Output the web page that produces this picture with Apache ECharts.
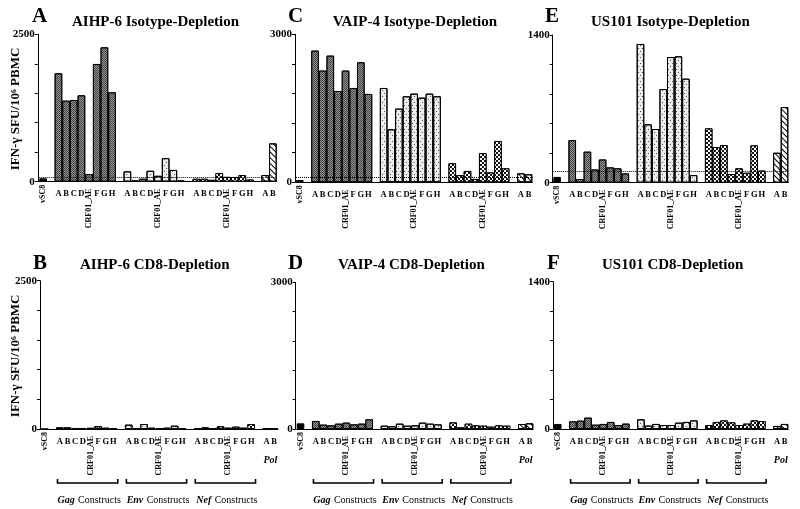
<!DOCTYPE html>
<html><head><meta charset="utf-8">
<script src="https://cdn.jsdelivr.net/npm/echarts@6/dist/echarts.min.js"></script>
<style>html,body{margin:0;padding:0;background:#fff}#c{width:800px;height:509px}</style>
</head><body><div id="c"></div>
<script>
// ---------------- data ----------------
const categories = ['vSC8','','A','B','C','D','CRF01_AE','F','G','H','','A','B','C','D','CRF01_AE','F','G','H','','A','B','C','D','CRF01_AE','F','G','H','','A','B'];
const panelLetters = ['A','B','C','D','E','F'];
const panelTitles = ['AIHP-6 Isotype-Depletion','AIHP-6 CD8-Depletion','VAIP-4 Isotype-Depletion','VAIP-4 CD8-Depletion','US101 Isotype-Depletion','US101 CD8-Depletion'];
const yMax = [2500, 2500, 3000, 3000, 1400, 1400];
const thresholds = [70, null, 100, null, 110, null];
const vsc8Values = [58, 0, 47, 116, 55, 48];
// Panel A: AIHP-6 Isotype
const gagA = [1838,1374,1386,1465,130,1997,2279,1516];
const envA = [175,20,50,185,100,400,200,20];
const nefA = [50,50,32,148,82,80,113,37];
const polA = [113,650];
// Panel B: AIHP-6 CD8
const gagB = [28,28,17,17,20,50,22,11];
const envB = [73,11,84,22,15,22,56,11];
const nefB = [11,28,12,45,22,39,22,84];
const polB = [4,4];
// Panel C: VAIP-4 Isotype
const gagC = [2669,2264,2568,1851,2264,1912,2432,1791];
const envC = [1912,1074,1493,1743,1797,1716,1797,1743];
const nefC = [385,145,230,68,590,200,838,284];
const polC = [182,162];
// Panel D: VAIP-4 CD8
const gagD = [164,89,75,109,130,95,109,198];
const envD = [68,55,109,68,75,130,109,95];
const nefD = [136,34,109,75,68,48,75,68];
const polD = [102,116];
// Panel E: US101 Isotype
const gagE = [404,35,294,125,220,145,136,88];
const envE = [1315,553,509,888,1191,1198,986,72];
const nefE = [515,338,357,82,136,94,354,115];
const polE = [284,717];
// Panel F: US101 CD8
const gagF = [73,79,108,41,48,67,38,51];
const envF = [92,32,48,38,38,60,67,82];
const nefF = [38,67,82,63,38,51,82,76];
const polF = [29,48];
const groupNames = ['Gag','Env','Nef'];

const gagData = [gagA,gagB,gagC,gagD,gagE,gagF];
const envData = [envA,envB,envC,envD,envE,envF];
const nefData = [nefA,nefB,nefC,nefD,nefE,nefF];
const polData = [polA,polB,polC,polD,polE,polF];

// ---------------- layout ----------------
const layout = [
 {left:39.3, top:34.3, width:237.4, height:147.4, yOff:1.5, lx:32, ly:17, tx:72, ty:21.7},
 {left:40.7, top:280.7, width:237.3, height:148.3, yOff:0.7, lx:33, ly:263.5, tx:80, ty:265},
 {left:296, top:34.3, width:236.3, height:148, yOff:1, lx:288, ly:17, tx:332.7, ty:21.7},
 {left:296.7, top:282.3, width:236.6, height:146.7, yOff:1, lx:288, ly:263.5, tx:338, ty:265},
 {left:553.3, top:35, width:235, height:147.7, yOff:0.6, lx:545, ly:17, tx:591, ty:21.7},
 {left:554, top:281.7, width:234.3, height:147.3, yOff:1, lx:547, ly:263.5, tx:602, ty:265}
];
const FONT = '"Liberation Serif","Times New Roman",serif';
const N = categories.length;
const START = {vsc:0, gag:2, env:11, nef:20, pol:29};

function place(vals, start){ const a = new Array(N).fill('-'); vals.forEach((v,i)=>{a[start+i]=v;}); return a; }

const styles = {
  vsc: {color:'#000'},
  gag: {color:'#474747', decal:{symbol:'rect', symbolSize:1, color:'rgba(255,255,255,0.4)', dashArrayX:[[1,1],[0,1,1,0]], dashArrayY:[1,0]}},
  env: {color:'#ececec', decal:{symbol:'rect', symbolSize:1, color:'#555', dashArrayX:[[1,3],[0,2,1,1]], dashArrayY:[1,1.5]}},
  nef: {color:'#151515', decal:{symbol:'rect', symbolSize:1, color:'#ffffff', dashArrayX:[[1.5,1.5],[0,1.5,1.5,0]], dashArrayY:[1.5,0]}},
  pol: {color:'#ffffff', decal:{symbol:'rect', symbolSize:1, color:'#000', dashArrayX:[1,0], dashArrayY:[1,2.2], rotation:Math.PI/4}}
};

const grids=[], xAxes=[], yAxes=[], series=[];
const letterAxisIdx = [];
layout.forEach((p, gi) => {
  grids.push({left:p.left, top:p.top, width:p.width, height:p.height});
  const base = xAxes.length;
  letterAxisIdx.push(base);
  const lab = {interval:0, fontFamily:FONT, fontWeight:'bold', color:'#000'};
  xAxes.push({type:'category', gridIndex:gi, position:'bottom', data:categories,
    axisLine:{show:true, onZero:false, lineStyle:{color:'#000', width:1}}, axisTick:{show:false}, splitLine:{show:false},
    axisLabel:Object.assign({}, lab, {margin:8, fontSize:8.5, formatter:v => v.length===1 ? v : ''})});
  xAxes.push({type:'category', gridIndex:gi, position:'bottom', data:categories,
    axisLine:{show:false, onZero:false}, axisTick:{show:false}, splitLine:{show:false},
    axisLabel:Object.assign({}, lab, {margin:7, rotate:90, fontSize:8, formatter:v => v==='CRF01_AE' ? v : ''})});
  xAxes.push({type:'category', gridIndex:gi, position:'bottom', data:categories,
    axisLine:{show:false, onZero:false}, axisTick:{show:false}, splitLine:{show:false},
    axisLabel:Object.assign({}, lab, {margin:3, rotate:90, fontSize:8, formatter:v => v==='vSC8' ? v : ''})});
  const mx = yMax[gi];
  yAxes.push({type:'value', gridIndex:gi, min:0, max:mx, interval:mx/5, offset:p.yOff,
    axisLine:{show:true, lineStyle:{color:'#000', width:1}},
    axisTick:{show:true, length:3, lineStyle:{color:'#000'}},
    splitLine:{show:false},
    axisLabel:{margin:3, fontFamily:FONT, fontWeight:'bold', fontSize:11, color:'#000',
      formatter:v => (v===0 || v===mx) ? String(v) : ''}});
  const groups = [
    ['vsc', [vsc8Values[gi]]], ['gag', gagData[gi]], ['env', envData[gi]], ['nef', nefData[gi]], ['pol', polData[gi]]
  ];
  groups.forEach(([k, vals]) => {
    const s = {type:'bar', xAxisIndex:base, yAxisIndex:gi, data:place(vals, START[k]),
      barGap:'-100%', barCategoryGap:0, silent:true,
      itemStyle:Object.assign({borderColor:'#000', borderWidth:1}, styles[k])};
    if (k==='vsc' && thresholds[gi] != null) {
      s.markLine = {symbol:'none', silent:true, label:{show:false},
        lineStyle:{type:'dotted', color:'#000', width:1}, data:[{yAxis:thresholds[gi]}]};
    }
    series.push(s);
  });
});

const chart = echarts.init(document.getElementById('c'), null, {renderer:'canvas'});
chart.setOption({animation:false, backgroundColor:'#fff', grid:grids, xAxis:xAxes, yAxis:yAxes, series:series});

// ---------------- annotations ----------------
const graphic = [];
layout.forEach((p, gi) => {
  graphic.push({type:'text', x:p.lx, y:p.ly, style:{text:panelLetters[gi], font:'bold 21px '+FONT, fill:'#000', textAlign:'left', textVerticalAlign:'middle'}});
  graphic.push({type:'text', x:p.tx, y:p.ty, style:{text:panelTitles[gi], font:'bold 15px '+FONT, fill:'#000', textAlign:'left', textVerticalAlign:'middle'}});
});
[0,1].forEach(gi => {
  const p = layout[gi];
  graphic.push({type:'text', x:16, y:p.top + p.height/2 + 1, rotation:Math.PI/2,
    style:{text:'IFN-\u03b3 SFU/10\u2076 PBMC', font:'bold 13px '+FONT, fill:'#000', textAlign:'center', textVerticalAlign:'middle'}});
});
[1,3,5].forEach(gi => {
  const ax = letterAxisIdx[gi];
  const p = layout[gi];
  const zeroY = chart.convertToPixel({yAxisIndex:gi}, 0);
  const cx = i => chart.convertToPixel({xAxisIndex:ax}, i);
  const w = p.width / N;
  // Pol label
  const polX = (cx(START.pol) + cx(START.pol+1)) / 2;
  graphic.push({type:'text', x:polX, y:zeroY+31, style:{text:'Pol', font:'italic bold 10px '+FONT, fill:'#000', textAlign:'center', textVerticalAlign:'middle'}});
  [['gag','Gag'],['env','Env'],['nef','Nef']].forEach(([k, name]) => {
    const x0 = cx(START[k]) - w/2 + 1.5;
    const x1 = cx(START[k]+7) + w/2 + 0.5;
    const by = zeroY + 54;
    graphic.push({type:'polyline', shape:{points:[[x0,by-4],[x0,by],[x1,by],[x1,by-4]]}, style:{stroke:'#000', lineWidth:1.6, fill:null}});
    graphic.push({type:'text', x:(x0+x1)/2 + 1.5, y:zeroY+71, style:{text:'{i|'+name+'} {n|Constructs}', textAlign:'center', textVerticalAlign:'middle',
      rich:{i:{fontFamily:FONT, fontStyle:'italic', fontWeight:'bold', fontSize:10, fill:'#000'}, n:{fontFamily:FONT, fontWeight:'normal', fontSize:10, fill:'#000'}}}});
  });
});
chart.setOption({graphic:graphic});
</script></body></html>
